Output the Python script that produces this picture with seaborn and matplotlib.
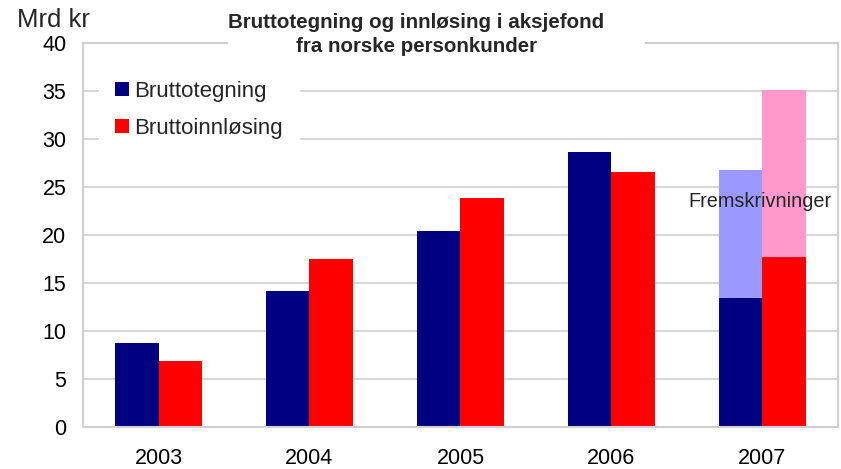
import pandas as pd
import numpy as np
import matplotlib
matplotlib.use("Agg")
import matplotlib.pyplot as plt
from matplotlib.patches import Rectangle
import seaborn as sns

# data (Mrd kr)
years = ["2003", "2004", "2005", "2006", "2007"]
tegning = [8.8, 14.2, 20.4, 28.6, 13.4]
innlosing = [6.9, 17.45, 23.9, 26.6, 17.7]
# projected full-year values for 2007
proj_years = ["2007"]
proj_tegning = [26.8]
proj_innlosing = [35.1]

series = ["Bruttotegning", "Bruttoinnløsing"]

actual = pd.DataFrame({
    "year": years * 2,
    "serie": [series[0]] * len(years) + [series[1]] * len(years),
    "value": tegning + innlosing,
})
proj = pd.DataFrame({
    "year": proj_years * 2,
    "serie": [series[0]] * len(proj_years) + [series[1]] * len(proj_years),
    "value": proj_tegning + proj_innlosing,
})

sns.set_style("white")
plt.rcParams["font.family"] = ["Liberation Sans", "DejaVu Sans"]

fig = plt.figure(figsize=(8.41, 4.69), dpi=100)
ax = fig.add_axes([0.0987, 0.0895, 0.8977, 0.8188])

grid_col = "#D0D0D0"

# projections first (light), actual values drawn over them
sns.barplot(data=proj, x="year", y="value", hue="serie", order=years, hue_order=series,
            palette=["#9999FF", "#FF99CC"], width=0.58, linewidth=0, saturation=1,
            legend=False, ax=ax)
sns.barplot(data=actual, x="year", y="value", hue="serie", order=years, hue_order=series,
            palette=["#000080", "#FF0000"], width=0.58, linewidth=0, saturation=1,
            ax=ax)

ax.set_ylim(0, 40)
ax.set_xlim(-0.5, 4.5)
ax.set_yticks(range(0, 41, 5))
ax.yaxis.grid(True, color=grid_col, linewidth=1.2)
ax.set_axisbelow(True)
for s in ax.spines.values():
    s.set_color(grid_col)
    s.set_linewidth(1.5)
ax.set_xlabel("")
ax.set_ylabel("")
ax.tick_params(axis="both", length=0, labelsize=15.5, colors="black")
ax.tick_params(axis="x", pad=15)
ax.tick_params(axis="y", pad=12)

leg = ax.legend(loc="upper left", bbox_to_anchor=(0.006, 0.973), fontsize=16,
                frameon=True, fancybox=False, framealpha=1, edgecolor="white",
                handlelength=0.6, handleheight=0.6, handletextpad=0.25,
                labelspacing=0.7, borderpad=0.75)

ax.text(3.98, 23.5, "Fremskrivninger", ha="center", va="center", fontsize=14.3)

# white box behind the title (hides the top of the frame)
fig.patches.append(Rectangle((228 / 841, 1 - 62 / 469), (645 - 228) / 841, 62 / 469,
                             transform=fig.transFigure, facecolor="white",
                             edgecolor="none", zorder=1))
fig.text(0.495, 0.926, "Bruttotegning og innløsing i aksjefond\nfra norske personkunder",
         ha="center", va="center", fontsize=14.8, fontweight="bold", linespacing=1.35,
         zorder=3)
fig.text(0.063, 0.957, "Mrd kr", ha="center", va="center", fontsize=18.5)

fig.savefig("out.png", dpi=100)
